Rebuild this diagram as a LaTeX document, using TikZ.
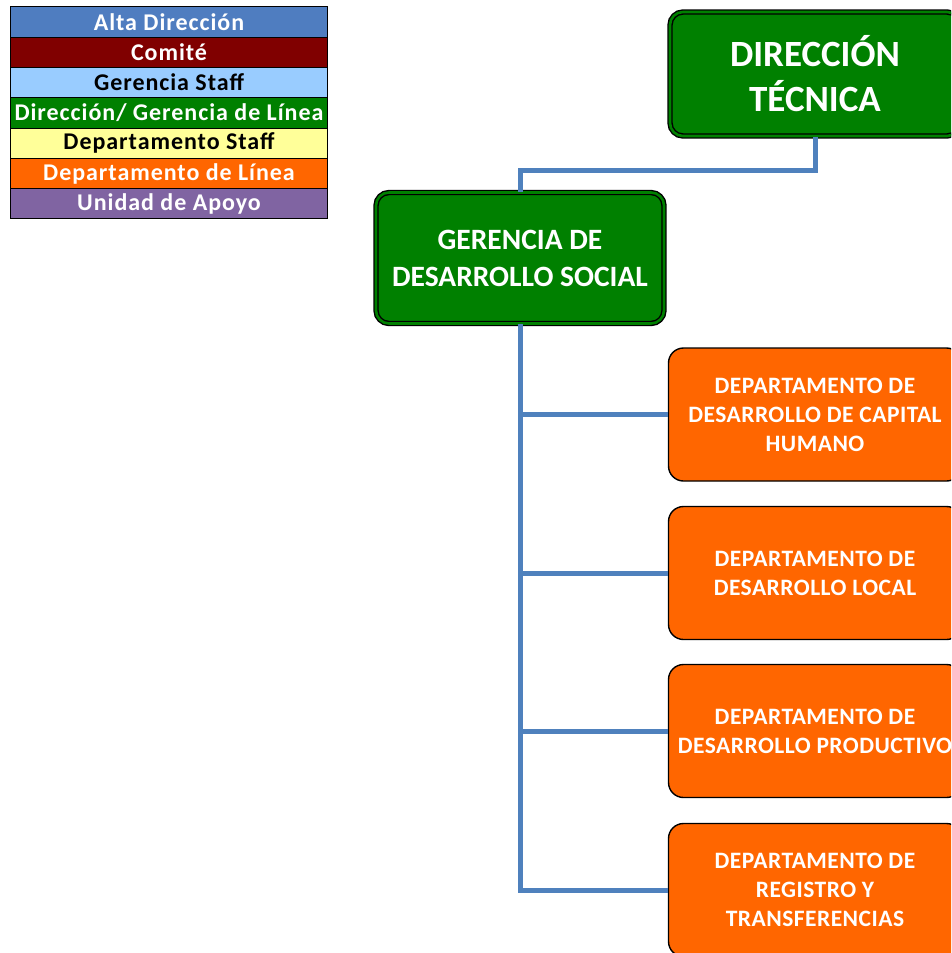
\documentclass[tikz,border=0pt]{standalone}
\usepackage{fontspec}
\setmainfont{Carlito}
\usepackage{tikz}
\usetikzlibrary{positioning}

\definecolor{altablue}{HTML}{4F7DC0}
\definecolor{comite}{HTML}{800000}
\definecolor{staffblue}{HTML}{99CCFF}
\definecolor{linegreen}{HTML}{008000}
\definecolor{staffyellow}{HTML}{FFFF99}
\definecolor{lineorange}{HTML}{FF6600}
\definecolor{apoyo}{HTML}{8064A2}
\definecolor{linkblue}{HTML}{4F81BD}

\tikzset{
  leg/.style={draw=black, line width=1pt, minimum width=317pt, minimum height=30.3pt,
    inner sep=0pt, outer sep=0pt, font=\fontsize{24}{26}\selectfont\bfseries\addfontfeature{LetterSpace=4}},
  dir/.style={draw=black, line width=1.4pt, double=linegreen, double distance=2.6pt,
    fill=linegreen, rounded corners=13pt, text=white, align=center, inner sep=0pt},
  dep/.style={draw=black, line width=1.4pt, fill=lineorange, rounded corners=15pt,
    text=white, align=center, inner sep=0pt, minimum width=293pt, minimum height=133pt,
    font=\fontsize{23.5}{29}\selectfont\bfseries\addfontfeature{LetterSpace=2}},
  link/.style={draw=linkblue, line width=5pt}
}

\begin{document}
\begin{tikzpicture}[x=1pt,y=-1pt]
      \useasboundingbox (0,0) rectangle (951,953);
      \clip (0,0) rectangle (951,953);

      \node [leg, fill=altablue, text=white] (l1) at (169,22) {Alta Dirección};
      \node [leg, fill=comite, text=white, below=0pt of l1] (l2) {Comité};
      \node [leg, fill=staffblue, below=0pt of l2] (l3) {Gerencia Staff};
      \node [leg, fill=linegreen, text=white, below=0pt of l3] (l4) {Dirección/ Gerencia de Línea};
      \node [leg, fill=staffyellow, below=0pt of l4] (l5) {Departamento Staff};
      \node [leg, fill=lineorange, text=white, below=0pt of l5] (l6) {Departamento de Línea};
      \node [leg, fill=apoyo, text=white, below=0pt of l6] (l7) {Unidad de Apoyo};

      \node [dir, minimum width=290pt, minimum height=124pt,
        font=\fontsize{37}{45}\selectfont\bfseries] (1) at (815,74) {DIRECCIÓN\\TÉCNICA};
      \node [dir, minimum width=288pt, minimum height=131pt,
        font=\fontsize{29.5}{37}\selectfont\bfseries] (2) at (520,258) {GERENCIA DE\\DESARROLLO SOCIAL};
      \node [dep] (3) at (815,414.5) {DEPARTAMENTO DE\\DESARROLLO DE CAPITAL\\HUMANO};
      \node [dep] (4) at (815,573) {DEPARTAMENTO DE\\DESARROLLO LOCAL};
      \node [dep] (5) at (815,731) {DEPARTAMENTO DE\\DESARROLLO PRODUCTIVO};
      \node [dep] (6) at (815,890) {DEPARTAMENTO DE\\REGISTRO Y\\TRANSFERENCIAS};

      \draw[link] (1.south) -- (1.south |- 0,170) -| (2.north);
      \draw[link] (2.south) |- (6.west);
      \draw[link] (2.south |- 3.west) -- (3.west);
      \draw[link] (2.south |- 4.west) -- (4.west);
      \draw[link] (2.south |- 5.west) -- (5.west);
    \end{tikzpicture}
\end{document}
